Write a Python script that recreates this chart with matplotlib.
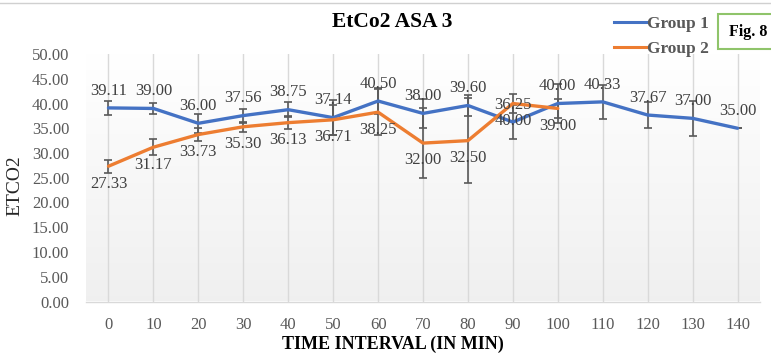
import numpy as np
import matplotlib
matplotlib.use("Agg")
import matplotlib.pyplot as plt
from matplotlib.patches import Rectangle
from matplotlib.lines import Line2D

plt.rcParams['font.family'] = ['Liberation Serif', 'DejaVu Serif']

# Time points (minutes)
times = [0, 10, 20, 30, 40, 50, 60, 70, 80, 90, 100, 110, 120, 130, 140]

# Mean EtCO2 per group
group1 = [39.11, 39.00, 36.00, 37.56, 38.75, 37.14, 40.50, 38.00, 39.60,
          36.25, 40.00, 40.33, 37.67, 37.00, 35.00]
group2 = [27.33, 31.17, 33.73, 35.30, 36.13, 36.71, 38.25, 32.00, 32.50,
          40.00, 39.00]

# Standard deviations (error bars)
group1_sd = [1.4, 1.2, 1.9, 1.4, 1.5, 3.5, 2.6, 2.9, 2.1, 3.5, 4.0, 3.4,
             2.6, 3.5, 0.0]
group2_sd = [1.3, 1.6, 1.4, 1.0, 1.3, 3.0, 4.6, 7.1, 8.6, 2.0, 2.0]

y_ticks = [0, 5, 10, 15, 20, 25, 30, 35, 40, 45, 50]

W, H = 771, 354
fig = plt.figure(figsize=(W / 100, H / 100), dpi=100)
fig.patch.set_facecolor('white')

ax = fig.add_axes([86 / W, 1 - 301.5 / H, (760 - 86) / W, (301.5 - 54) / H])

x1 = np.arange(len(group1))
x2 = np.arange(len(group2))

ax.set_xlim(-0.5, len(times) - 0.5)
ax.set_ylim(0, 50)

# soft vertical gradient behind the plot
grad = np.linspace(0, 1, 256).reshape(-1, 1)
top = np.array([1.0, 1.0, 1.0])
bottom = np.array([0.94, 0.94, 0.94])
img = (top + (bottom - top) * grad[..., None]).reshape(256, 1, 3)
ax.imshow(img, extent=[-0.5, len(times) - 0.5, 0, 50], aspect='auto',
          zorder=0, origin='upper')

# vertical category gridlines
for xi in x1:
    ax.axvline(xi, color='#d9d9d9', lw=1.0, zorder=1)

blue = '#4472c4'
orange = '#ed7d31'
ecol = '#595959'

ax.errorbar(x1, group1, yerr=group1_sd, fmt='none', ecolor=ecol,
            elinewidth=1.2, capsize=3, capthick=1.2, zorder=3)
ax.errorbar(x2, group2, yerr=group2_sd, fmt='none', ecolor=ecol,
            elinewidth=1.2, capsize=3, capthick=1.2, zorder=3)

ax.plot(x1, group1, color=blue, lw=2.4, zorder=4, label='Group 1',
        solid_capstyle='round')
ax.plot(x2, group2, color=orange, lw=2.4, zorder=4, label='Group 2',
        solid_capstyle='round')

lab_col = '#404040'
for xi, v in zip(x1, group1):
    ax.annotate(f'{v:.2f}', (xi, v), xytext=(0, 12.5), textcoords='offset points',
                ha='center', va='center', fontsize=12, color=lab_col, zorder=5)
for xi, v in zip(x2, group2):
    ax.annotate(f'{v:.2f}', (xi, v), xytext=(0, -12.5), textcoords='offset points',
                ha='center', va='center', fontsize=12, color=lab_col, zorder=5)

ax.set_xticks(x1)
ax.set_xticklabels([str(t) for t in times])
ax.set_yticks(y_ticks)
ax.set_yticklabels([f'{t:.2f}' for t in y_ticks])
ax.tick_params(axis='both', length=0, labelsize=12, colors='#595959')
ax.tick_params(axis='x', pad=11)
ax.tick_params(axis='y', pad=12)

for s in ['top', 'right', 'left']:
    ax.spines[s].set_visible(False)
ax.spines['bottom'].set_color('#d9d9d9')
ax.spines['bottom'].set_linewidth(1.0)
ax.spines['bottom'].set_zorder(2)

fig.text(393 / W, 1 - 344 / H, 'TIME INTERVAL (IN MIN)', ha='center',
         va='center', fontsize=13, fontweight='bold', color='black')
fig.text(15 / W, 1 - 186 / H, 'ETCO2', rotation=90, ha='center', va='center',
         fontsize=14, color='#262626')

fig.text(392 / W, 1 - 22 / H, 'EtCo2 ASA 3', ha='center', va='center',
         fontsize=15.5, fontweight='bold', color='black')

# legend
handles = [Line2D([], [], color=blue, lw=2.2), Line2D([], [], color=orange, lw=2.2)]
fig.legend(handles, ['Group 1', 'Group 2'], loc='upper left',
           bbox_to_anchor=(611 / W, 1 - 12 / H), frameon=False,
           prop={'weight': 'bold', 'size': 12.5}, labelcolor='#595959',
           handlelength=1.8, handletextpad=0.1, labelspacing=0.55,
           borderaxespad=0, borderpad=0.2)

# figure tag box
fig.patches.append(Rectangle((718 / W, 1 - 49 / H), 60 / W, 35 / H,
                             transform=fig.transFigure, facecolor='white',
                             edgecolor='#8fc46a', lw=1.5))
fig.text(729 / W, 1 - 31.5 / H, 'Fig. 8', ha='left', va='center',
         fontsize=11.5, fontweight='bold', color='black')

# thin rule at top
fig.add_artist(Line2D([0, 1], [1 - 3 / H, 1 - 3 / H], transform=fig.transFigure,
                      color='#d0d0d0', lw=1.0))

fig.savefig('out.png', dpi=100)
